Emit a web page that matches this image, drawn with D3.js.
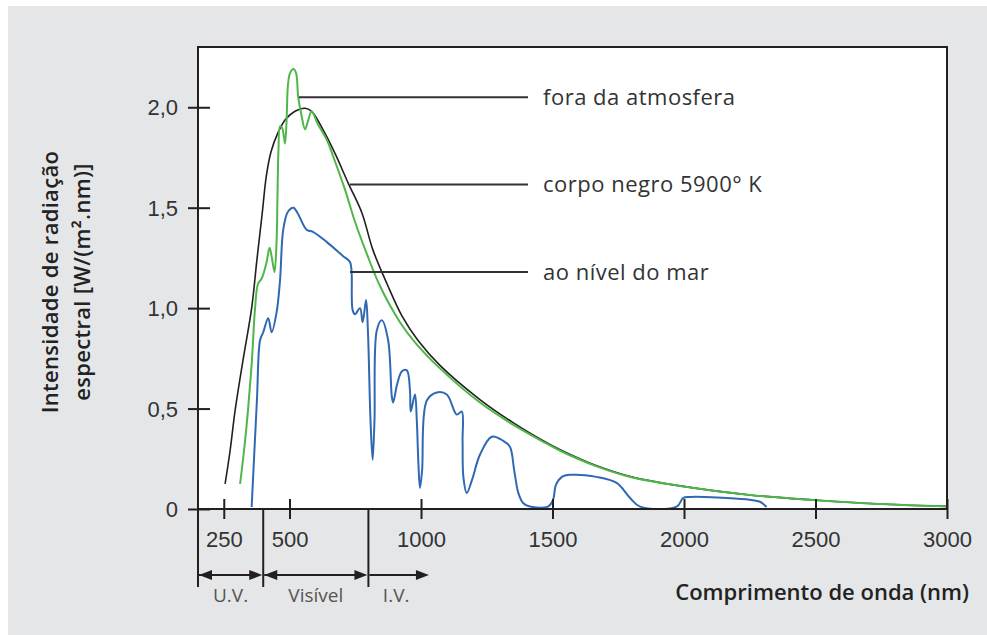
<!DOCTYPE html>
<html>
<head>
<meta charset="utf-8">
<script src="https://cdn.jsdelivr.net/npm/d3@7"></script>
<style>
  body { margin: 0; background: #fff; }
  svg { display: block; font-family: "Open Sans", "Noto Sans", sans-serif; }
</style>
</head>
<body>
<div id="chart"></div>
<script>
// wavelength (nm) and spectral intensity
var blackbody = [
  [255, 0.125], [274, 0.29], [293, 0.49], [323, 0.74], [356, 1.0], [376, 1.24],
  [396, 1.47], [412, 1.66], [430, 1.78], [455, 1.87], [485, 1.94], [521, 1.98],
  [559, 1.995], [584, 1.98], [635, 1.87], [673, 1.77], [724, 1.62], [775, 1.475],
  [817, 1.29], [871, 1.12], [928, 0.96], [988, 0.84], [1072, 0.715], [1224, 0.545],
  [1350, 0.43], [1471, 0.335], [1529, 0.295], [1668, 0.215], [1800, 0.16],
  [1985, 0.115], [2250, 0.07], [2490, 0.045], [2745, 0.025], [3000, 0.013]
];

var outside = [
  [312, 0.125], [327, 0.29], [342, 0.49], [357, 0.74], [369, 1.0], [380, 1.12],
  [395, 1.15], [413, 1.23], [424, 1.30], [433, 1.25], [443, 1.18], [451, 1.34],
  [454, 1.54], [458, 1.79], [464, 1.905], [471, 1.90], [479, 1.85], [483, 1.82],
  [489, 1.94], [494, 2.11], [502, 2.17], [515, 2.19], [525, 2.17], [533, 2.05],
  [544, 1.97], [559, 1.89], [570, 1.93], [584, 1.98], [608, 1.915], [641, 1.84],
  [673, 1.73], [711, 1.59], [749, 1.43], [794, 1.27], [844, 1.11], [920, 0.93],
  [977, 0.83], [1072, 0.70], [1224, 0.53], [1350, 0.42], [1471, 0.33], [1529, 0.29],
  [1668, 0.212], [1800, 0.158], [1985, 0.115], [2250, 0.07], [2490, 0.045],
  [2745, 0.025], [3000, 0.013]
];

var sealevel = [
  [356, 0.01], [376, 0.54], [388, 0.84], [400, 0.88], [419, 0.95], [432, 0.88],
  [451, 0.98], [464, 1.14], [476, 1.39], [494, 1.48], [515, 1.50], [532, 1.47],
  [565, 1.39], [589, 1.38], [641, 1.33], [703, 1.26], [730, 1.23], [736, 1.18],
  [740, 0.99], [749, 0.97], [768, 1.00], [778, 0.93], [791, 1.04], [798, 0.89],
  [808, 0.44], [816, 0.245], [823, 0.44], [832, 0.89], [851, 0.94], [875, 0.84],
  [889, 0.56], [894, 0.53], [909, 0.62], [927, 0.685], [946, 0.69], [958, 0.59],
  [961, 0.485], [977, 0.57], [984, 0.44], [990, 0.23], [996, 0.105], [1004, 0.19],
  [1022, 0.54], [1060, 0.58], [1098, 0.57], [1136, 0.47], [1155, 0.485],
  [1158, 0.34], [1161, 0.16], [1174, 0.08], [1194, 0.145], [1224, 0.27],
  [1269, 0.36], [1312, 0.34], [1338, 0.31], [1354, 0.195], [1370, 0.08],
  [1388, 0.03], [1414, 0.012], [1483, 0.012], [1502, 0.045], [1513, 0.12],
  [1536, 0.16], [1567, 0.17], [1668, 0.16], [1744, 0.13], [1795, 0.055],
  [1833, 0.012], [1972, 0.012], [1997, 0.055], [2023, 0.06], [2238, 0.048],
  [2289, 0.036], [2314, 0.01]
];

var xTicks = [250, 500, 1000, 1500, 2000, 2500, 3000];
var yTicks = [0, 0.5, 1.0, 1.5, 2.0];
var yTickLabels = ["0", "0,5", "1,0", "1,5", "2,0"];

var bands = [
  {label: "U.V.", from: 152, to: 400, both: true},
  {label: "Visível", from: 400, to: 800, both: true},
  {label: "I.V.", from: 800, to: 1030, both: false}
];

var callouts = [
  {label: "fora da atmosfera", nm: 536, v: 2.05},
  {label: "corpo negro 5900° K", nm: 730, v: 1.615},
  {label: "ao nível do mar", nm: 730, v: 1.18}
];

var W = 987, H = 635;
var margin = {top: 47, right: 947, bottom: 509, left: 198};
var ink = "#231f20", textCol = "#333";

var svg = d3.select("#chart").append("svg")
    .attr("width", W)
    .attr("height", H);

svg.append("rect")
    .attr("x", 8).attr("y", 6)
    .attr("width", W - 8).attr("height", H - 6)
    .attr("fill", "#e5e6e7");

svg.append("rect")
    .attr("x", margin.left).attr("y", margin.top)
    .attr("width", margin.right - margin.left).attr("height", margin.bottom - margin.top)
    .attr("fill", "#fff");

var x = d3.scaleLinear().domain([152, 3000]).range([margin.left, margin.right]);
var y = d3.scaleLinear().domain([0, 2.3]).range([margin.bottom, margin.top]);

var line = d3.line()
    .x(function (d) { return x(d[0]); })
    .y(function (d) { return y(d[1]); })
    .curve(d3.curveCatmullRom.alpha(0.5));

// curves
svg.append("path").datum(blackbody)
    .attr("d", line).attr("fill", "none")
    .attr("stroke", ink).attr("stroke-width", 1.6);
svg.append("path").datum(sealevel)
    .attr("d", line).attr("fill", "none")
    .attr("stroke", "#2f68b3").attr("stroke-width", 2);
svg.append("path").datum(outside)
    .attr("d", line).attr("fill", "none")
    .attr("stroke", "#4fb649").attr("stroke-width", 2);

// callouts
var lineEnd = 528, textX = 543;
callouts.forEach(function (c) {
    svg.append("line")
        .attr("x1", x(c.nm)).attr("x2", lineEnd)
        .attr("y1", y(c.v)).attr("y2", y(c.v))
        .attr("stroke", "#333").attr("stroke-width", 2);
    svg.append("text")
        .attr("x", textX).attr("y", y(c.v))
        .attr("dy", "0.35em")
        .attr("fill", textCol)
        .style("font-size", "22px")
        .style("letter-spacing", "0.5px")
        .text(c.label);
});

// frame
svg.append("rect")
    .attr("x", margin.left).attr("y", margin.top)
    .attr("width", margin.right - margin.left).attr("height", margin.bottom - margin.top)
    .attr("fill", "none").attr("stroke", ink).attr("stroke-width", 2);

// x axis
var xAxis = svg.append("g")
    .attr("transform", "translate(0," + margin.bottom + ")")
    .call(d3.axisBottom(x).tickValues(xTicks).tickSizeOuter(0).tickFormat(d3.format("d")));
xAxis.select(".domain").remove();
xAxis.selectAll(".tick line").attr("y1", -10).attr("y2", 10)
    .attr("stroke", ink).attr("stroke-width", 2);
xAxis.selectAll(".tick text").attr("y", 38).attr("dy", 0)
    .attr("fill", textCol).style("font-size", "22px");

// y axis
var yAxis = svg.append("g")
    .attr("transform", "translate(" + margin.left + ",0)")
    .call(d3.axisLeft(y).tickValues(yTicks).tickSizeOuter(0)
        .tickFormat(function (d, i) { return yTickLabels[i]; }));
yAxis.select(".domain").remove();
yAxis.selectAll(".tick line").attr("x1", -10).attr("x2", 12)
    .attr("stroke", ink).attr("stroke-width", 2);
yAxis.selectAll(".tick text").attr("x", -20).attr("dy", "0.35em")
    .attr("fill", textCol).style("font-size", "22px");

// wavelength bands under the axis
var bandY = 575;
var edges = [152, 400, 800];
edges.forEach(function (e) {
    svg.append("line")
        .attr("x1", x(e)).attr("x2", x(e))
        .attr("y1", margin.bottom).attr("y2", 587)
        .attr("stroke", ink).attr("stroke-width", 2);
});

function head(px, dir) {
    // dir = 1 points right, -1 points left
    return "M" + px + "," + bandY + "L" + (px - dir * 13) + "," + (bandY - 5) +
        "L" + (px - dir * 13) + "," + (bandY + 5) + "Z";
}

bands.forEach(function (b) {
    var x0 = x(b.from) + 1, x1 = x(b.to) - (b.both ? 1 : 0);
    svg.append("line")
        .attr("x1", x0).attr("x2", x1 - 4)
        .attr("y1", bandY).attr("y2", bandY)
        .attr("stroke", ink).attr("stroke-width", 2);
    svg.append("path").attr("d", head(x1, 1)).attr("fill", ink);
    if (b.both) svg.append("path").attr("d", head(x0, -1)).attr("fill", ink);
    var cx = b.both ? (x0 + x1) / 2 : (x0 + x1) / 2 - 3;
    svg.append("text")
        .attr("x", cx).attr("y", 602)
        .attr("text-anchor", "middle")
        .attr("fill", "#555")
        .style("font-size", "19px")
        .text(b.label);
});

// axis titles
svg.append("text")
    .attr("x", 969).attr("y", 600)
    .attr("text-anchor", "end")
    .attr("fill", "#222")
    .style("font-size", "22px").style("font-weight", 600)
    .text("Comprimento de onda (nm)");

var yTitle = svg.append("text")
    .attr("transform", "translate(66,282) rotate(-90)")
    .attr("text-anchor", "middle")
    .attr("fill", "#222")
    .style("font-size", "22px").style("font-weight", 600)
    .style("letter-spacing", "0.3px");
yTitle.append("tspan").attr("x", 0).attr("y", -8).text("Intensidade de radiação");
yTitle.append("tspan").attr("x", 0).attr("y", 24).text("espectral [W/(m².nm)]");
</script>
</body>
</html>
